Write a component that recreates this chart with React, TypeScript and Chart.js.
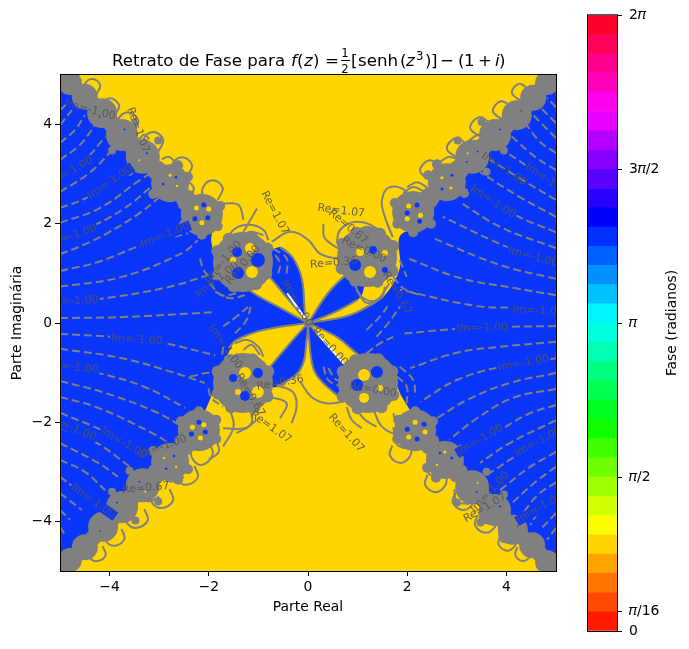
import React, { useEffect, useRef } from "react";
import { Chart, registerables } from "chart.js";
Chart.register(...registerables);

const FONT = '"DejaVu Sans"';
const BLUE = "#0a35fb";
const YELLOW = "#ffd500";
const GRAY = "#808080";

// Colour bands of the colour bar, from 0 to 2 pi
const bandColors = ["#ff1a00","#ff4800","#ff7500","#ffa300","#ffd500","#fcfc00","#cfff00","#a0ff00","#70ff00","#40ff00","#10ff00","#00ff21","#00ff50","#00ff80","#00ffb0","#00ffdf","#00f5ff","#00c0ff","#0090ff","#0060ff","#0030ff","#0000ff","#2a00ff","#5a00ff","#8a00ff","#b500ff","#e500ff","#ff00ee","#ff00bb","#ff008c","#ff005a","#ff002b"];
const bandWidth = 0.19635;
const barTicks = [0, 0.19635, 1.5708, 3.14159, 4.71239, 6.28319];
const barTickLabels = ["0", "𝜋/16", "𝜋/2", "𝜋", "3𝜋/2", "2𝜋"];
const axisTicks = [-4, -2, 0, 2, 4];

// Phase regions, data units
const wholePlane = [-5,-5,5,-5,5,5,-5,5,-5,-5];
const rightBlue = [0,0,.85,.16,1.51,.52,1.85,1.1,1.85,1.75,2.3,2,2.6,2.55,3,2.9,3.5,3.3,3.9,3.75,4.3,4.15,4.6,4.5,5,4.8,5,-4.8,4.6,-4.5,4.2,-4.1,3.8,-3.7,3.35,-3.25,2.8,-2.7,2.3,-2.1,1.9,-1.5,1.6,-.9,.98,-.61,.58,-.28,0,0];
const leftBlue = [0,0,-.55,.3,-1.14,.63,-1.5,1,-1.85,1.3,-1.95,1.65,-1.95,2,-2.9,2.9,-3.4,3.3,-3.8,3.8,-4.2,4.2,-4.55,4.55,-5,4.9,-5,-4.9,-4.5,-4.5,-3.75,-3.7,-3.3,-3.25,-2.8,-2.75,-2.25,-2.1,-2,-1.6,-1.6,-.6,-1.44,-.34,-.9,-.14,0,0];
const wedgeUR = [0,0,.45,.66,.95,1.13,1.15,1,1.1,.6,.99,.46,.5,.2,0,0];
const wedgeUL = [0,0,-.06,.2,-.12,.87,-.3,1.31,-.56,1.53,-.9,1.3,-.77,.93,-.35,.42,0,0];
const wedgeLL = [0,0,-.4,-.45,-.77,-.89,-1,-1.2,-.63,-1.29,-.16,-.95,-.02,-.28,0,0];
const wedgeLR = [0,0,.4,-.46,.75,-.85,1.1,-1.2,.9,-1.5,.65,-1.51,.25,-1.15,.1,-.89,.02,-.3,0,0];
const blueRegions = [rightBlue, leftBlue, wedgeUR, wedgeUL, wedgeLL, wedgeLR];

// Gray solid boundaries of the central petals
const petalEdges = [
  [0,0,-.55,.3,-1.14,.63,-1.35,.85],[0,0,-.9,-.14,-1.44,-.34,-1.6,-.5],[0,0,.85,.16,1.51,.52],[0,0,.58,-.28,.98,-.61,1.3,-.85],
  [0,0,.45,.66,.95,1.13],[0,0,.5,.2,.99,.46],[0,0,-.06,.2,-.12,.87,-.3,1.31,-.56,1.53],[0,0,-.35,.42,-.77,.93],
  [0,0,-.4,-.45,-.77,-.89],[0,0,-.02,-.28,-.16,-.95,-.63,-1.29],[0,0,.4,-.46,.75,-.85],[0,0,.02,-.3,.1,-.89,.25,-1.15,.65,-1.51],
];
const whiteSlits = [[-.42,.6,-.06,.1],[.18,-.2,.75,-.85]];

// Re contours (solid)
const reInner = [
  [-.73,1.64,-.36,1.84,.01,1.67,.24,1.4,.71,1.27],[.31,2,.34,1.71,.71,1.44],[-1.03,2.31,-1.2,2.01,-1.34,1.77],
  [-1.67,1.57,-1.5,1.88,-1.2,1.98,-.9,1.88,-.8,1.67],[-1.37,1.71,-1.17,1.84,-.9,1.77],
  [.58,1.61,.65,1.88,.98,2.04,1.38,1.91,1.55,1.64],[.91,1.74,1.18,1.94,1.59,1.74],
  [.98,.67,1.18,.41,1.49,.53,1.55,.73],[.91,.87,1.08,.53,1.38,.46,1.62,.77],
  [-.16,-1.18,.07,-1.49,.38,-1.62,.71,-1.59],[-.63,-1.25,-.3,-1.4,-.23,-1.69,-.33,-2.02],[-.77,-1.49,-.43,-1.62,-.56,-1.92],
  [-1.03,-1.95,-1.27,-2.12,-1.71,-2.12],[-1.17,-1.69,-1.14,-2.02,-1.44,-2.22],[.78,-1.69,.88,-1.95,1.08,-2.12],
  [.98,-1.75,1.15,-1.95,1.38,-2.09],[1.32,-1.75,1.49,-2.09,1.79,-2.22,1.72,-1.82],
  [-1.47,-.41,-1.24,-.34,-1,-.48,-.9,-.68],[-1.3,-.54,-1.14,-.44,-.97,-.64],
  [-1.71,2.41,-1.4,2.38,-1.3,2.08],[-1.57,-1.75,-1.5,-2.09,-1.71,-2.49],
];
const reRingsUR = [
  [1.71,1.73,1.55,2.14,1.49,2.48,1.65,2.74,2,2.62,1.9,2.22],[2.51,2.86,2.26,3.06,2.44,3.28,2.66,3.13,2.76,2.86],
  [3.05,3.31,2.8,3.51,2.98,3.73,3.2,3.58,3.3,3.31],[3.52,3.73,3.27,3.93,3.45,4.15,3.67,4,3.77,3.73],
  [3.96,4.07,3.73,4.27,3.89,4.47,4.09,4.34,4.2,4.07],[4.32,4.46,4.11,4.64,4.25,4.82,4.43,4.7,4.52,4.46],
  [2.66,3.25,2.86,3.35,3.1,3.25],[3.21,3.65,3.43,3.79,3.63,3.73],[2,2.74,2.2,2.84,2.42,2.72],[1.92,2.62,2.12,2.74,2.36,2.64],
];
const reRingsLR = [
  [1.7,-2.47,1.65,-2.67,1.85,-2.82,2.05,-2.7,2.1,-2.47],[2.41,-3.06,2.36,-3.26,2.56,-3.41,2.76,-3.29,2.81,-3.06],
  [2.97,-3.42,2.92,-3.62,3.12,-3.77,3.32,-3.65,3.37,-3.42],[3.42,-3.88,3.37,-4.08,3.57,-4.23,3.77,-4.11,3.82,-3.88],
  [3.88,-4.28,3.84,-4.46,4.01,-4.59,4.18,-4.48,4.23,-4.28],[4.22,-4.52,4.18,-4.68,4.33,-4.8,4.48,-4.7,4.53,-4.52],
  [2.4,-2.85,2.45,-3.05,2.7,-3.1],[2.95,-3.35,3,-3.6,3.25,-3.65],[3.45,-3.8,3.5,-4,3.72,-4.05],[3.85,-4.2,3.9,-4.4,4.1,-4.42],
  [1.72,-2.1,1.8,-2.45,2.1,-2.55],[1.85,-2.2,1.95,-2.4,2.15,-2.5],
];
const reRingsLL = [
  [-2,-2.4,-1.92,-2.65,-2.14,-2.86,-2.34,-2.72,-2.36,-2.5],[-2.29,-2.88,-2.22,-3.11,-2.44,-3.26,-2.64,-3.16,-2.66,-2.94],
  [-2.79,-3.35,-2.72,-3.58,-2.94,-3.73,-3.14,-3.63,-3.16,-3.41],[-3.3,-3.75,-3.23,-3.98,-3.45,-4.13,-3.65,-4.03,-3.67,-3.81],
  [-3.76,-4.15,-3.7,-4.35,-3.89,-4.49,-4.07,-4.4,-4.09,-4.2],[-4.14,-4.5,-4.08,-4.68,-4.25,-4.8,-4.41,-4.72,-4.43,-4.54],
  [-1.85,-2.35,-1.8,-2.6,-2,-2.75],[-2.5,-3.1,-2.75,-3.2,-2.95,-3.1],[-3,-3.5,-3.2,-3.6,-3.4,-3.5],[-3.5,-3.9,-3.65,-4,-3.85,-3.95],
];
const reRingsUL = [
  [-2.12,2.48,-2.12,2.73,-1.92,2.88,-1.72,2.73,-1.82,2.48],[-2.74,2.94,-2.74,3.19,-2.54,3.34,-2.34,3.19,-2.44,2.94],
  [-3.32,3.45,-3.32,3.7,-3.12,3.85,-2.92,3.7,-3.02,3.45],[-3.83,3.85,-3.83,4.1,-3.63,4.25,-3.43,4.1,-3.53,3.85],
  [-4.17,4.17,-4.17,4.39,-3.99,4.53,-3.81,4.39,-3.9,4.17],[-4.51,4.6,-4.51,4.8,-4.35,4.92,-4.19,4.8,-4.27,4.6],
  [-2.4,2.85,-2.3,2.7,-2.45,2.5],[-2.95,3.3,-2.8,3.35,-2.65,3.2],[-3.4,3.7,-3.3,3.8,-3.2,3.7],
];

// Im contours (dashed)
const imRight = [
  [5,4.35,4.82,4.54],[5,4.03,4.68,4.35],[5,3.73,4.48,4.25],[5,3.43,4.68,3.65,4.41,3.99],[5,3.08,4.58,3.35,4.07,3.79],
  [5,2.78,4.48,3.12,3.87,3.53],[5,2.48,4.33,2.88,3.67,3.29],[5,2.14,4.27,2.54,3.47,3.04],[5,1.83,4.17,2.18,3.27,2.74],
  [5,1.51,3.87,1.94,3.06,2.44],[5,1.21,4.07,1.51,2.72,2.14],[5,.89,3.87,1.17,2.52,1.71],[5,.56,4.13,.71,3.06,.91,2,1.31],
  [5,.2,4.21,.3,3.41,.34,1.85,.67],[5,-.06,4.01,-.08,3,-.12,1.85,-.22],[5,-.38,3.87,-.48,3,-.6,2.06,-.91],
  [5,-.71,3.87,-.89,3,-1.15,2.26,-1.59],[5,-1.01,4.07,-1.21,3.21,-1.55,2.6,-1.92],[5,-1.33,4.13,-1.51,3.41,-1.92,2.85,-2.35],
  [5,-1.65,4.41,-1.85,3.67,-2.3,3.06,-2.7],[5,-1.96,4.07,-2.42,3.47,-2.82],[5,-2.26,4.33,-2.6,3.67,-3.02],[5,-2.6,4.48,-2.9,3.87,-3.37],
  [5,-2.9,4.58,-3.21,4.07,-3.67],[5,-3.21,4.63,-3.47,4.31,-3.87],[5,-3.53,4.68,-3.77,4.48,-4.07],[5,-3.83,4.68,-4.17],[5,-4.13,4.82,-4.37],
];
const imLeft = [
  [-5,.1,-3.75,.12,-1.87,.22],[-5,-.22,-3.95,-.28,-2.94,-.4,-1.87,-.65],[-5,-.52,-3.75,-.71,-2.74,-.99,-2.08,-1.21],
  [-5,-.87,-4.23,-1.01,-3.29,-1.29,-2.48,-1.71],[-5,-1.17,-4.09,-1.41,-3.08,-1.79,-2.48,-2.12],[-5,-1.49,-4.23,-1.71,-3.14,-2.22,-2.74,-2.46],
  [-5,-1.81,-4.09,-2.2,-3.29,-2.7],[-5,-2.12,-4.29,-2.4,-3.59,-2.9],[-5,-2.42,-4.23,-2.82,-3.83,-3.1],[-5,-2.76,-4.5,-3,-4.09,-3.37],
  [-5,-3.1,-4.7,-3.33,-4.29,-3.67],[-5,-3.43,-4.56,-3.77],[-5,-3.77,-4.8,-3.97],[-5,-4.11,-4.9,-4.27],
  [-5,.4,-4.23,.48,-2.88,.71,-1.87,1.01],[-5,.73,-3.75,.93,-2.54,1.41,-2.22,1.67],[-5,1.05,-4.23,1.23,-3.35,1.57,-2.42,1.81],
  [-5,1.39,-4.54,1.57,-4.05,1.81,-3.39,2.22,-2.78,2.72],[-5,1.71,-4.29,1.98,-3.69,2.32,-3.19,2.72],[-5,2.02,-4.19,2.32,-3.39,2.88,-2.88,3.19],
  [-5,2.32,-4.44,2.54,-3.55,3.14,-3.39,3.29],[-5,2.64,-4.39,3.04,-3.89,3.55],[-5,2.96,-4.5,3.29,-4.09,3.75],[-5,3.29,-4.6,3.59,-4.29,3.99],
  [-5,3.63,-4.7,3.89,-4.5,4.19],[-5,3.99,-4.76,4.29],[-5,4.29,-4.84,4.44],
];
const imInner = [
  [-1.71,-.07,-1.44,.13,-1.17,.36],[-1.47,-.21,-1.24,.06,-1.14,.4],[-1.98,.8,-1.74,.56,-1.44,.6],[-1.87,.63,-1.57,.5,-1.27,.56],
  [-2.18,1.3,-2.08,1.03,-1.87,.87],[-.7,1.5,-.43,1.3,-.43,1],[-.66,1.37,-.56,1.2,-.6,1],[1.18,-.14,1.45,.13,1.65,.4],
  [1.38,-.28,1.62,0,1.85,.33],[1.85,1.27,1.99,.93],[1.72,.93,1.92,.7,2.26,.56],[-2.38,-1.08,-1.91,-1.02,-1.77,-1.28,-1.84,-1.49],
  [-2.01,-1.32,-1.94,-1.52,-1.71,-1.69],[-1.71,-.48,-1.71,-.68,-1.44,-.61],[1.85,-.88,2.12,-1.15,2.16,-1.49],[1.79,-1.08,1.99,-1.28,1.99,-1.62],
  [.31,-.88,.41,-1.15,.65,-1.28],[.41,-.91,.58,-1.15,.78,-1.08],[1.18,-.61,1.45,-.41,1.72,-.28],
];

// Dense knots of contours: x, y, radius
const knotsInner = [[-1.31,1.23,30],[1.19,1.33,30],[-1.31,-1.21,30],[1.21,-1.21,30],[0,0,4]];
const knotLobes = [
  [-.82,1.5,6],[-.84,1,6],[-1.05,.78,6],[-1.5,.74,6],[-1.8,.98,6],[-1.83,1.45,6],[-1.6,1.7,6],[-1.12,1.72,6],
  [.7,1.6,6],[.68,1.1,6],[.95,.85,6],[1.4,.83,6],[1.7,1.05,6],[1.72,1.55,6],[1.45,1.8,6],[.98,1.82,6],
  [-.8,-.98,6],[-.82,-1.48,6],[-1.08,-1.7,6],[-1.55,-1.7,6],[-1.82,-1.42,6],[-1.82,-.98,6],[-1.58,-.75,6],[-1.12,-.73,6],
  [1.7,-.98,6],[1.72,-1.45,6],[1.48,-1.7,6],[1,-1.72,6],[.7,-1.48,6],[.7,-.98,6],[.95,-.75,6],[1.42,-.73,6],
];
const knotsUR = [[2.12,2.24,21],[2.8,2.84,19],[3.31,3.35,17],[3.77,3.79,16],[4.21,4.19,15],[4.54,4.54,13],[4.82,4.84,12],[5,5,12]];
const knotsUL = [[-2.14,2.18,21],[-2.78,2.82,19],[-3.33,3.35,17],[-3.75,3.79,16],[-4.15,4.23,15],[-4.5,4.56,13],[-4.8,4.84,12],[-5,5,12]];
const knotsLL = [[-2.2,-2.16,21],[-2.78,-2.8,19],[-3.33,-3.27,17],[-3.75,-3.71,16],[-4.13,-4.11,15],[-4.5,-4.52,13],[-4.8,-4.78,12],[-5,-5,12]];
const knotsLR = [[2.16,-2.16,21],[2.76,-2.76,19],[3.31,-3.31,17],[3.77,-3.77,16],[4.13,-4.17,15],[4.52,-4.48,13],[4.82,-4.82,12],[5,-5,12]];
const knotJoins = [
  [2.46,2.54,10],[3.05,3.1,10],[3.54,3.57,9],[3.99,3.99,9],[4.38,4.37,8],[4.68,4.69,8],[4.91,4.92,8],
  [-2.46,2.5,10],[-3.05,3.08,10],[-3.54,3.57,9],[-3.95,4.01,9],[-4.32,4.4,8],[-4.65,4.7,8],[-4.9,4.92,8],
  [-2.49,-2.48,10],[-3.05,-3.03,10],[-3.54,-3.49,9],[-3.94,-3.91,9],[-4.32,-4.32,8],[-4.65,-4.65,8],[-4.9,-4.89,8],
  [2.46,-2.46,10],[3.03,-3.03,10],[3.54,-3.54,9],[3.95,-3.97,9],[4.32,-4.32,8],[4.67,-4.65,8],[4.91,-4.91,8],
];
const knotBumps = [
  [1.75,2.42,5],[1.8,2,5],[2.12,1.83,5],[2.48,2,5],[2.5,2.42,5],[2.42,2.98,5],[2.6,3.2,5],[3.12,3.1,5],[3.15,2.62,5],[3.6,3.05,4],[3.02,3.68,4],[3.95,3.48,4],[3.5,4.05,4],
  [-1.77,2.36,5],[-1.82,1.95,5],[-2.14,1.78,5],[-2.5,1.98,5],[-2.52,2.38,5],[-2.42,2.95,5],[-2.62,3.18,5],[-3.1,3.08,5],[-3.12,2.6,5],[-3.6,3.05,4],[-3.02,3.68,4],[-3.95,3.48,4],[-3.48,4.05,4],
  [-1.85,-2.34,5],[-1.85,-1.95,5],[-2.2,-1.78,5],[-2.56,-1.98,5],[-2.58,-2.36,5],[-2.42,-2.95,5],[-2.62,-3.16,5],[-3.1,-3.05,5],[-3.12,-2.58,5],[-3.6,-2.98,4],[-3.02,-3.6,4],[-3.95,-3.4,4],[-3.48,-3.98,4],
  [1.8,-2.34,5],[1.82,-1.95,5],[2.16,-1.78,5],[2.52,-1.98,5],[2.54,-2.36,5],[2.4,-2.92,5],[2.58,-3.12,5],[3.08,-3.02,5],[3.1,-2.55,5],[3.6,-3,4],[3,-3.62,4],[3.95,-3.46,4],[3.48,-4.02,4],
];

// Petals visible inside the knots
const yellowPetals = [
  [-1.13,1.03,6],[-1.17,1.51,5],[-1.51,1.27,3],[1.25,1.03,6],[1.05,1.43,4],[1.55,1.41,3],[-1.27,-1.01,6],[-1.41,-1.39,3],[-1.01,-1.39,6],[1.13,-1.05,6],[1.13,-1.51,5],[1.45,-1.31,3],
  [2.03,2.36,2.5],[2.27,2.17,2.5],[2,2.1,2.5],[-2.25,2.32,2.5],[-2,2.3,2.5],[-2.14,2.02,2.5],[-2.33,-2.1,2.5],[-2.1,-2.05,2.5],[-2.17,-2.32,2.5],[2.16,-2,2.5],[2.36,-2.2,2.5],[2.03,-2.3,2.5],
  [2.7,2.93,1.5],[2.88,2.72,1.5],[-2.78,2.98,1.5],[-2.64,2.76,1.2],[-2.9,-2.72,1.2],[-2.66,-2.9,1.2],[2.76,-2.6,1.5],[2.6,-2.86,1.2],[3.22,3.42,1],[-3.4,3.28,1],[-3.28,-3.4,1],[3.42,-3.22,1],
];
const bluePetals = [
  [-1.01,1.27,7],[-1.43,1.43,5],[-1.41,1.01,6],[.95,1.17,6],[1.31,1.47,4],[1.55,1.07,3],[-1.27,-1.47,5],[-1.01,-1.01,5],[-1.51,-1.11,4],[1.39,-.99,6],[.99,-1.25,6],
  [2.2,2.38,2.5],[2,2.22,2.5],[2.25,2.05,2.5],[-2.02,2.12,2.5],[-2.28,2.1,2.5],[-2.1,2.38,2.5],[-2.07,-2.2,2.5],[-2.35,-2.24,2.5],[-2.2,-2,2.5],[2.34,-2.04,2.5],[2,-2.14,2.5],[2.2,-2.34,2.5],
  [2.9,2.98,1.5],[2.7,2.7,1.5],[-2.66,2.94,1.3],[-2.92,2.8,1.3],[-2.7,-2.68,1.3],[-2.86,-2.94,1.3],[2.9,-2.72,1.5],[2.66,-2.62,1.3],[3.42,3.46,1],[3.2,3.25,1],[3.87,3.9,1],[-3.25,3.42,1],[-3.7,3.9,1],[-3.4,-3.2,1],[-3.85,-3.62,1],[3.4,-3.4,1],[3.87,-3.7,1],[4.3,4.28,.8],[-4.2,4.15,.8],[-4.2,-4.2,.8],[4.22,-4.1,.8],
];

// Contour labels: x, y, angle in degrees
const imLabelSpots = [[3.73,2.44,33],[4.84,2.88,33],[4.54,1.33,15],[4.64,.24,3],[3.51,-.1,-1],[4.35,-.81,-10],[3.47,-2.36,-30],[4.64,-2.4,-28],[4.68,-3.73,-30],
  [-4.74,.44,-3],[-3.45,-.34,3],[-4.74,-.89,7],[-3.71,-2.42,30],[-4.76,-2.12,22],[-3.99,2.84,-35],[-4.8,3.04,-30],[-4.76,1.75,-20],[-2.88,1.77,-22],[-4.33,-3.59,35]];
const imLabelsPlain = [[3.95,3.1,33],[3.67,-3.41,-48],[-1.83,.87,-38],[-.22,.4,60],[-1.67,-.48,55],[-1.71,1.23,-50],[-4.39,4.29,15],[-2.94,-2.5,-20]];
const reLabels = [["Re=1.07",-.67,2.22,62],["Re=1.07",.67,2.26,7],["Re=0.36",.52,1.21,-5],["Re=0.67",1.79,.6,60],["Re=0.00",.44,-.48,48],["Re=1.07",.77,-2.22,48],["Re=1.07",-.75,-2.1,35],["Re=0.36",-.56,-1.21,-10],["Re=0.67",.81,1.94,40],["Re=0.00",1.13,1.47,25],["Re=0.00",1.31,-1.35,10],["Re=0.00",-1.31,1.17,-50],["Re=0.67",-1.17,-1.45,60],["Re=1.07",-3.43,3.89,70],["Re=0.67",-3.27,-3.33,-5],["Re=1.07",3.57,-3.73,-30]];

const toPts = (a: number[]) => {
  const out: { x: number; y: number }[] = [];
  for (let i = 0; i < a.length; i += 2) out.push({ x: a[i], y: a[i + 1] });
  return out;
};
const toBubbles = (a: number[][]) => a.map(([x, y, r]) => ({ x, y, r }));

const titlePieces: [string, number, string, number?][] = [
  ["Retrato de Fase para", 112, "n"], ["f", 291, "i"], ["(", 297, "n"], ["z", 304, "i"], [")", 313, "n"], ["=", 325, "n"], ["[", 351, "n"], ["senh", 358, "n"], ["(", 400, "n"], ["z", 406, "i"], ["3", 416, "s", -6], [")", 425, "n"], ["]", 431, "n"], ["−", 440, "n"], ["(", 458, "n"], ["1", 464, "n"], ["+", 478, "n"], ["i", 495, "i"], [")", 499, "n"],
];

const mainPlugin = {
  id: "mainDecor",
  afterDatasetsDraw(chart: any) {
    const { ctx, chartArea: a, scales } = chart;
    ctx.save();
    ctx.beginPath();
    ctx.rect(a.left, a.top, a.right - a.left, a.bottom - a.top);
    ctx.clip();
    ctx.font = `11px ${FONT}`;
    ctx.textAlign = "center";
    ctx.textBaseline = "middle";
    const put = (t: string, x: number, y: number, deg: number, mask: boolean) => {
      ctx.save();
      ctx.translate(scales.x.getPixelForValue(x), scales.y.getPixelForValue(y));
      ctx.rotate((deg * Math.PI) / 180);
      if (mask) {
        ctx.fillStyle = BLUE;
        ctx.fillRect(-27, -5, 54, 10);
      }
      ctx.fillStyle = "rgba(85,85,85,0.9)";
      ctx.fillText(t, 0, 0);
      ctx.restore();
    };
    imLabelSpots.forEach(([x, y, d]) => put("Im=-1.00", x, y, d, true));
    imLabelsPlain.forEach(([x, y, d]) => put("Im=-1.00", x, y, d, false));
    reLabels.forEach((l: any) => put(l[0], l[1], l[2], l[3], false));
    ctx.restore();

    ctx.save();
    ctx.strokeStyle = "#000";
    ctx.lineWidth = 1;
    ctx.strokeRect(a.left + 0.5, a.top - 0.5, a.right - a.left, a.bottom - a.top + 1);

    const base = 66;
    ctx.fillStyle = "#000";
    ctx.textAlign = "left";
    ctx.textBaseline = "alphabetic";
    const fonts: any = { n: `16.67px ${FONT}`, i: `italic 16.67px ${FONT}`, s: `11.7px ${FONT}` };
    titlePieces.forEach(([t, x, k, dy]) => {
      ctx.font = fonts[k];
      ctx.fillText(t, x, base + (dy || 0));
    });
    ctx.font = `11.7px ${FONT}`;
    ctx.textAlign = "center";
    ctx.fillText("1", 345, base - 9);
    ctx.fillText("2", 345, base + 7);
    ctx.fillRect(341, base - 6, 9, 1);
    ctx.restore();
  },
};

const barPlugin = {
  id: "barDecor",
  afterDraw(chart: any) {
    const { ctx, chartArea: a } = chart;
    ctx.save();
    ctx.strokeStyle = "#000";
    ctx.lineWidth = 1;
    ctx.strokeRect(a.left + 0.5, a.top - 0.5, a.right - a.left, a.bottom - a.top + 1);
    ctx.translate(102, 323);
    ctx.rotate(-Math.PI / 2);
    ctx.fillStyle = "#000";
    ctx.font = `13.9px ${FONT}`;
    ctx.textAlign = "center";
    ctx.textBaseline = "middle";
    ctx.fillText("Fase (radianos)", 0, 0);
    ctx.restore();
  },
};

export default function App() {
  const mainRef = useRef<HTMLCanvasElement>(null);
  const barRef = useRef<HTMLCanvasElement>(null);
  useEffect(() => {
    const sets: any[] = [];
    sets.push({ type: "scatter", showLine: true, data: toPts(wholePlane), fill: "shape", backgroundColor: YELLOW, borderWidth: 0, pointRadius: 0, tension: 0 });
    blueRegions.forEach((r) => sets.push({ type: "scatter", showLine: true, data: toPts(r), fill: "shape", backgroundColor: BLUE, borderWidth: 0, pointRadius: 0, tension: 0.3 }));
    const line = (a: number[], color: string, width: number, dash: number[]) =>
      sets.push({ type: "scatter", showLine: true, data: toPts(a), fill: false, borderColor: color, borderWidth: width, borderDash: dash, pointRadius: 0, tension: 0.4 });
    [...imRight, ...imLeft, ...imInner].forEach((a) => line(a, GRAY, 2, [8, 4]));
    [...petalEdges, ...reInner, ...reRingsUR, ...reRingsLR, ...reRingsLL, ...reRingsUL].forEach((a) => line(a, GRAY, 2, []));
    whiteSlits.forEach((a) => line(a, "#fff", 2, []));
    const bubbles = (a: number[][], color: string) =>
      sets.push({ type: "bubble", data: toBubbles(a), backgroundColor: color, borderWidth: 0, hoverRadius: 0 });
    bubbles([...knotsInner, ...knotLobes, ...knotsUR, ...knotsUL, ...knotsLL, ...knotsLR, ...knotJoins, ...knotBumps], GRAY);
    bubbles(yellowPetals, YELLOW);
    bubbles(bluePetals, BLUE);
    const n = sets.length;
    sets.forEach((s, i) => { s.order = n - i; });
    const minusFmt = (v: any) => String(v).replace("-", "−");
    const main = new Chart(mainRef.current!, {
      type: "scatter",
      data: { datasets: sets },
      plugins: [mainPlugin],
      options: {
        responsive: false, animation: false, events: [], devicePixelRatio: 1,
        layout: { padding: { left: 0, top: 75, right: 133, bottom: 0 } },
        plugins: { legend: { display: false }, tooltip: { enabled: false }, title: { display: false } },
        scales: {
          x: {
            type: "linear", min: -5, max: 5,
            afterBuildTicks: (s: any) => { s.ticks = axisTicks.map((value) => ({ value })); },
            afterFit: (s: any) => { s.height = 78; },
            grid: { drawOnChartArea: false, tickLength: 5, tickColor: "#000" }, border: { display: false },
            ticks: { color: "#000", font: { family: "DejaVu Sans", size: 13.9 }, padding: 3, maxRotation: 0, callback: minusFmt },
            title: { display: true, text: "Parte Real", color: "#000", font: { family: "DejaVu Sans", size: 13.9 }, padding: { top: 0, bottom: 33 } },
          },
          y: {
            type: "linear", min: -5, max: 5,
            afterBuildTicks: (s: any) => { s.ticks = axisTicks.map((value) => ({ value })); },
            afterFit: (s: any) => { s.width = 60; },
            grid: { drawOnChartArea: false, tickLength: 5, tickColor: "#000" }, border: { display: false },
            ticks: { color: "#000", font: { family: "DejaVu Sans", size: 13.9 }, padding: 3, callback: minusFmt },
            title: { display: true, text: "Parte Imaginária", color: "#000", font: { family: "DejaVu Sans", size: 13.9 }, padding: { top: 9, bottom: 0 } },
          },
        },
      } as any,
    });
    const bar = new Chart(barRef.current!, {
      type: "bar",
      data: { labels: ["Fase"], datasets: bandColors.map((c) => ({ data: [bandWidth], backgroundColor: c, barPercentage: 1, categoryPercentage: 1, borderWidth: 0 })) },
      plugins: [barPlugin],
      options: {
        responsive: false, animation: false, events: [], devicePixelRatio: 1,
        layout: { padding: { left: 17, top: 15, right: 0, bottom: 18 } },
        plugins: { legend: { display: false }, tooltip: { enabled: false } },
        scales: {
          x: { stacked: true, display: false },
          y: {
            stacked: true, position: "right", min: 0, max: 6.28319,
            afterBuildTicks: (s: any) => { s.ticks = barTicks.map((value) => ({ value })); },
            afterFit: (s: any) => { s.width = 72; },
            grid: { drawOnChartArea: false, tickLength: 5, tickColor: "#000" }, border: { display: false },
            ticks: { color: "#000", font: { family: "DejaVu Sans", size: 13.9 }, padding: 7, autoSkip: false,
              callback: (_v: any, i: number) => barTickLabels[i] },
          },
        },
      } as any,
    });
    return () => { main.destroy(); bar.destroy(); };
  }, []);
  return (
    <div style={{ position: "absolute", left: 0, top: 0, width: 689, height: 649 }}>
      <canvas ref={mainRef} width={689} height={649} style={{ position: "absolute", left: 0, top: 0 }} />
      <canvas ref={barRef} width={119} height={649} style={{ position: "absolute", left: 570, top: 0 }} />
    </div>
  );
}
